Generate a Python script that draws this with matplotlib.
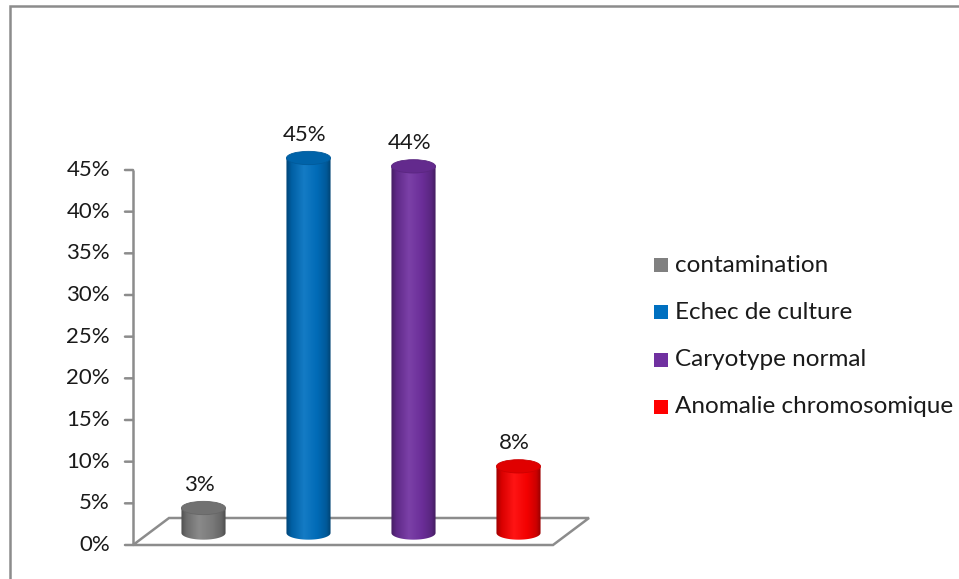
import numpy as np
import matplotlib.pyplot as plt
from matplotlib.patches import PathPatch, Ellipse, Polygon, Rectangle
from matplotlib.path import Path
from matplotlib.colors import LinearSegmentedColormap, to_rgb
from matplotlib.transforms import offset_copy

plt.rcParams['font.family'] = ['Lato', 'DejaVu Sans']

categories = ['contamination', 'Echec de culture', 'Caryotype normal', 'Anomalie chromosomique']
values = [0.03, 0.45, 0.44, 0.08]
labels = ['3%', '45%', '44%', '8%']
colors = ['#808080', '#0070C0', '#7030A0', '#FF0000']
yticks = [0, 0.05, 0.10, 0.15, 0.20, 0.25, 0.30, 0.35, 0.40, 0.45]
ymax = 0.45

W, H = 959, 579
FS = 16        # tick and data labels
FS_LEG = 17.5  # legend entries
TXT = '#1a1a1a'
fig = plt.figure(figsize=(W / 100, H / 100), dpi=100)

# outer chart frame
fig.patches.append(Rectangle((9.5 / W, -0.1), 1.2, (H - 6.5) / H + 0.1, transform=fig.transFigure,
                             fill=False, edgecolor='#8c8c8c', linewidth=1.8))

# axes extends above the top tick so the 3D tops are not clipped
px_per_unit = 375 / ymax
top = 0.56
ax = fig.add_axes([133 / W, (H - 545) / H, 420 / W, top * px_per_unit / H])
n = len(values)
ax.axis('off')

# depth offsets in pixels (back wall and bar centre plane)
back = offset_copy(ax.transData, fig=fig, x=36, y=27, units='dots')
mid = offset_copy(ax.transData, fig=fig, x=18, y=12, units='dots')

ax.set_xlim(-0.5, n - 0.5)
ax.set_ylim(0, top)

# floor
floor = np.array([[-0.5, 0], [n - 0.5, 0]])
front_pts = ax.transData.transform(floor)
back_pts = back.transform(floor)
inv = fig.transFigure.inverted()
poly = np.vstack([front_pts, back_pts[::-1]])
ax.add_patch(Polygon(inv.transform(poly), closed=True, fill=False, edgecolor='#8c8c8c',
                     linewidth=1.8, transform=fig.transFigure, clip_on=False, zorder=1))

# value axis line and ticks
axis_col = '#8c8c8c'
ax.plot([-0.5, -0.5], [0, ymax], color=axis_col, lw=1.8, clip_on=False, solid_capstyle='butt')
for t in yticks:
    ax.annotate('', xy=(-0.5, t), xytext=(-8, 0), textcoords='offset pixels',
                xycoords='data', arrowprops=dict(arrowstyle='-', color=axis_col, lw=1.8,
                                                 shrinkA=0, shrinkB=0))
    ax.annotate('%d%%' % round(t * 100), xy=(-0.5, t), xytext=(-23, 0), textcoords='offset pixels',
                ha='right', va='center', fontsize=FS, color=TXT)

bw = 0.42      # cylinder width in category units
eh = 0.0160    # ellipse height in value units


def shade(c, f):
    r = np.array(to_rgb(c))
    if f < 1:
        return tuple(r * f)
    return tuple(r + (1 - r) * (f - 1))


for i, (v, c, lab) in enumerate(zip(values, colors, labels)):
    x0, x1 = i - bw / 2, i + bw / 2
    th = np.linspace(np.pi, 2 * np.pi, 40)
    arc = np.column_stack([i + bw / 2 * np.cos(th), eh / 2 * np.sin(th)])
    verts = np.vstack([[x0, v], arc, [x1, v], [x0, v]])
    codes = [Path.MOVETO] + [Path.LINETO] * (len(verts) - 2) + [Path.CLOSEPOLY]
    body = PathPatch(Path(verts, codes), facecolor='none', edgecolor='none', transform=mid)
    ax.add_patch(body)
    cmap = LinearSegmentedColormap.from_list(
        'cyl', [(0, shade(c, 0.62)), (0.12, shade(c, 0.85)), (0.4, shade(c, 1.08)),
                (0.7, shade(c, 0.95)), (0.9, shade(c, 0.8)), (1, shade(c, 0.6))])
    grad = np.linspace(0, 1, 100).reshape(1, -1)
    im = ax.imshow(grad, cmap=cmap, aspect='auto', extent=(x0, x1, -eh, v),
                   transform=mid, zorder=2, interpolation='bilinear')
    im.set_clip_path(body)
    ax.add_patch(Ellipse((i, v), bw, eh, facecolor=shade(c, 0.88), edgecolor=shade(c, 0.8),
                         linewidth=0.6, transform=mid, zorder=3))
    ax.annotate(lab, xy=(i, v), xycoords=mid, xytext=(-4, 13), textcoords='offset pixels',
                ha='center', va='bottom', fontsize=FS, color=TXT)

ax.set_xlim(-0.5, n - 0.5)
ax.set_ylim(0, top)

# legend
for k, (name, c) in enumerate(zip(categories, colors)):
    y = (H - (265 + 47.3 * k)) / H
    fig.patches.append(Rectangle((654 / W, y - 7 / H), 14 / W, 14 / H, transform=fig.transFigure,
                                 facecolor=c, edgecolor='none'))
    fig.text(675 / W, y, name, fontsize=FS_LEG, va='center', ha='left', color=TXT)

fig.savefig('out.png', dpi=100)
